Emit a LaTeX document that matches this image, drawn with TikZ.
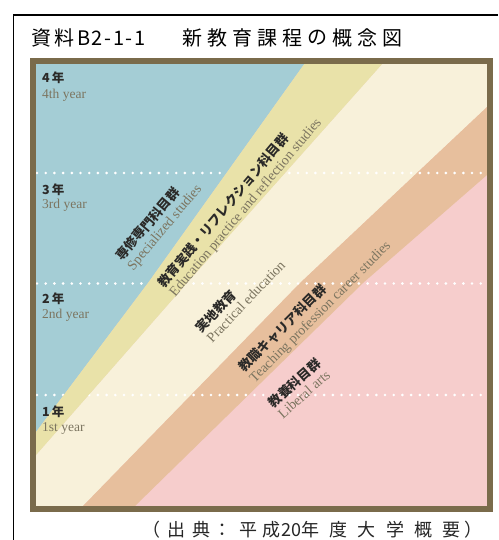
\documentclass[tikz,border=0pt]{standalone}
\usepackage{fontspec}
\newfontfamily\jp{Noto Sans CJK JP}
\newfontfamily\en{Liberation Serif}
\definecolor{cblue}{HTML}{A4CDD5}
\definecolor{cyel}{HTML}{E9E2A9}
\definecolor{ccream}{HTML}{F8F1DA}
\definecolor{cbrown}{HTML}{E7BF9D}
\definecolor{cpink}{HTML}{F6CDCC}
\definecolor{cframe}{HTML}{7A6B4B}
\definecolor{ctext}{HTML}{2B2A28}
\definecolor{cgray}{HTML}{7C7560}
\newcommand{\jfont}{\jp\bfseries\color{ctext}}
\newcommand{\efont}{\en\fontsize{14}{14.5}\selectfont\color{cgray}}
\tikzset{
  ttl/.style={inner sep=0pt, font=\jp\fontsize{20}{20}\selectfont, text=black},
  captext/.style={inner sep=0pt, font=\jp\fontsize{18}{18}\selectfont, text=black!85},
  bandlab/.style={inner sep=0pt, align=left, font=\fontsize{13}{14.5}\selectfont},
  yj/.style={inner sep=0pt, anchor=west, font=\jp\bfseries\fontsize{12.5}{12.5}\selectfont, text=ctext},
  ye/.style={inner sep=0pt, anchor=west, font=\en\fontsize{13.5}{13.5}\selectfont, text=cgray},
  dots/.style={white, line width=2.9pt, line cap=round, dash pattern=on 0pt off 8.7pt},
}
\begin{document}
\begin{tikzpicture}[x=1pt,y=-1pt]
\useasboundingbox (0,0) rectangle (498,540);
% outer page frame
\draw[line width=1.6pt] (13.5,540) -- (13.5,15) -- (498,15);
% title
\foreach \c/\x [count=\i] in {資/31,料/54,新/182,教/207,育/232,課/257,程/282,の/307,概/332,念/357,図/382}
  \node[ttl, anchor=west] (title\i) at (\x,38) {\c};
\node[ttl, anchor=west] (titleB) at (77,38) {\addfontfeatures{LetterSpace=8}B2-1-1};
% bands
\fill[cpink] (36,63) rectangle (487,506);
\fill[cblue] (36,63) -- (305,63) -- (148,283) -- (36,432) -- cycle;
\fill[ccream] (383,63) -- (487,63) -- (487,107) -- (300,283) -- (83,506) -- (36,506) -- (36,455) -- (187,283) -- cycle;
\fill[cbrown] (487,107) -- (487,175) -- (363,283) -- (135,506) -- (83,506) -- (300,283) -- cycle;
% dotted year lines
\draw[dots] (37,173) -- (487,173);
\draw[dots] (37,283.5) -- (487,283.5);
\draw[dots] (37,395) -- (487,395);
% yellow band over dots
\fill[cyel] (305,63) -- (383,63) -- (187,283) -- (36,455) -- (36,432) -- (148,283) -- cycle;
% frame
\draw[cframe, line width=6pt] (33,61) rectangle (490,509);
% year labels
\node[yj] (y4) at (42,78) {4\,年};
\node[ye] (y4e) at (42,95) {4th year};
\node[yj] (y3) at (42,190) {3\,年};
\node[ye] (y3e) at (42,205.5) {3rd year};
\node[yj] (y2) at (42,299) {2\,年};
\node[ye] (y2e) at (42,315.5) {2nd year};
\node[yj] (y1) at (42,412) {1\,年};
\node[ye] (y1e) at (42,428) {1st year};
% band labels
\node[bandlab, rotate=50] (l1) at (159,223) {{\jfont 専修専門科目群}\\{\efont Specialized studies}};
\node[bandlab, rotate=50] (l2) at (240,203) {{\jfont 教育実践・リフレクション科目群}\\{\efont Education practice and reflection studies}};
\node[bandlab, rotate=46.5] (l3) at (240,296) {{\jfont 実地教育}\\{\efont Practical education}};
\node[bandlab, rotate=45] (l4) at (315,307) {{\jfont 教職キャリア科目群}\\{\efont Teaching profession career studies}};
\node[bandlab, rotate=41.5] (l5) at (299,388) {{\jfont 教養科目群}\\{\efont Liberal arts}};
% caption
\foreach \c/\x [count=\i] in {（/142,出/167,典/192,：/213,平/239,成/262,年/301,度/329,大/357,学/386,概/414,要/442,）/464}
  \node[captext, anchor=west] (cap\i) at (\x,530) {\c};
\node[captext, anchor=west] (cap20) at (281,530) {20};
\end{tikzpicture}
\end{document}
